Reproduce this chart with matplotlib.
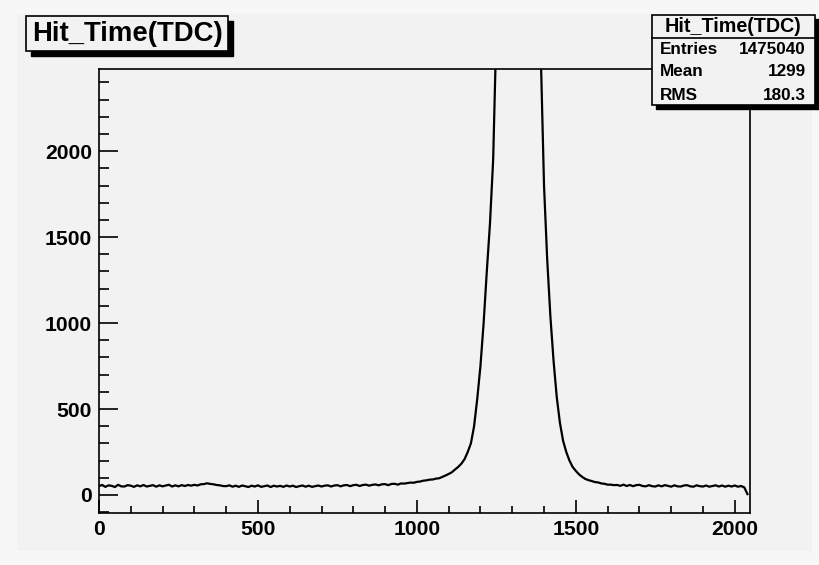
import numpy as np
import matplotlib
matplotlib.use("Agg")
import matplotlib.pyplot as plt
from matplotlib.patches import Rectangle
from matplotlib.ticker import MultipleLocator

# ---------------- data ----------------
bin_step = 10
counts_0_290 = [52, 58, 47, 56, 53, 46, 59, 50, 49, 57, 54, 47, 56, 50, 58, 49, 53, 57, 48, 56,
                50, 55, 59, 49, 56, 50, 57, 52, 58, 54]
counts_300_390 = [59, 55, 62, 63, 68, 64, 62, 58, 56, 52]
counts_400_690 = [51, 56, 48, 54, 47, 55, 51, 46, 54, 49, 56, 47, 51, 55, 46, 54, 49, 53, 47, 55,
                  49, 54, 46, 51, 55, 48, 54, 47, 51, 55]
counts_700_990 = [49, 54, 56, 49, 55, 57, 50, 56, 58, 51, 57, 59, 52, 58, 60, 54, 59, 61, 56, 62,
                  63, 57, 64, 65, 60, 67, 66, 69, 72, 71]
counts_1000_1250 = [76, 78, 83, 85, 89, 90, 95, 97, 105, 113, 122, 132, 148, 163, 182, 208, 250,
                    300, 400, 560, 750, 1000, 1300, 1580, 1950, 2700]
counts_1260_1380 = [4200, 6500, 9500, 13000, 16500, 19000, 20000, 19500, 17500, 14000, 10000,
                    6500, 3600]
counts_1390_1620 = [2550, 1800, 1370, 1040, 780, 570, 420, 315, 250, 200, 163, 140, 120, 105, 93,
                    86, 81, 75, 73, 67, 65, 60, 60, 57]
counts_1630_2040 = [58, 53, 60, 52, 58, 51, 57, 59, 52, 50, 57, 51, 49, 56, 50, 57, 53, 48, 56, 50,
                    49, 55, 57, 50, 48, 56, 51, 49, 55, 48, 52, 56, 49, 55, 48, 54, 49, 55, 48, 52,
                    44, 5]

counts = np.array(counts_0_290 + counts_300_390 + counts_400_690 + counts_700_990 +
                  counts_1000_1250 + counts_1260_1380 + counts_1390_1620 + counts_1630_2040,
                  dtype=float)
bin_x = np.arange(len(counts)) * bin_step

x_ticks = [0, 500, 1000, 1500, 2000]
y_ticks = [0, 500, 1000, 1500, 2000]
title_text = "Hit_Time(TDC)"
stats_labels = ["Entries", "Mean", "RMS"]
stats_values = ["1475040", "1299", "180.3"]

# ---------------- figure ----------------
W, H = 819, 565
fig = plt.figure(figsize=(W / 100, H / 100), dpi=100)
fig.patch.set_facecolor("#f7f7f7")

def fx(px):
    return px / W

def fy(py):
    return 1 - py / H

# inner pad background
fig.patches.append(Rectangle((fx(17), fy(551)), fx(812) - fx(17), fy(14) - fy(551),
                             transform=fig.transFigure, facecolor="#f2f2f2",
                             edgecolor="none", zorder=-10))

ax = fig.add_axes([fx(99), fy(513), fx(750) - fx(99), fy(69) - fy(513)])
ax.set_facecolor("#f2f2f2")
ax.plot(bin_x, counts, color="black", lw=1.6, solid_joinstyle="round")
ax.set_xlim(0, 2048)
ax.set_ylim(-105, 2478)

ax.xaxis.set_major_locator(MultipleLocator(500))
ax.xaxis.set_minor_locator(MultipleLocator(100))
ax.yaxis.set_major_locator(MultipleLocator(500))
ax.yaxis.set_minor_locator(MultipleLocator(100))
ax.set_xticks(x_ticks)
ax.set_yticks(y_ticks)

ax.tick_params(axis="x", which="major", direction="in", length=9.4, width=1.2, pad=5,
               top=False)
ax.tick_params(axis="x", which="minor", direction="in", length=4.7, width=1.2, top=False)
ax.tick_params(axis="y", which="major", direction="in", length=13.7, width=1.2, pad=5,
               right=False)
ax.tick_params(axis="y", which="minor", direction="in", length=7.2, width=1.2, right=False)

for lab in ax.get_xticklabels() + ax.get_yticklabels():
    lab.set_fontfamily("Liberation Sans")
    lab.set_fontweight("bold")
    lab.set_fontsize(15.2)

for sp in ax.spines.values():
    sp.set_linewidth(1.2)
    sp.set_color("black")

# ---------------- title box ----------------
def box(x0, y0, x1, y1, shadow=5, z=5):
    fig.patches.append(Rectangle((fx(x0 + shadow), fy(y1 + shadow)), fx(x1 - x0), fy(y0) - fy(y1),
                                 transform=fig.transFigure, facecolor="black",
                                 edgecolor="black", zorder=z))
    fig.patches.append(Rectangle((fx(x0), fy(y1)), fx(x1 - x0), fy(y0) - fy(y1),
                                 transform=fig.transFigure, facecolor="#f2f2f2",
                                 edgecolor="black", lw=1.2, zorder=z + 0.1))

box(26, 16, 228, 51, shadow=5)
fig.text(fx(127), fy(34), title_text, ha="center", va="center", fontsize=19.8,
         fontweight="bold", fontfamily="Liberation Sans", zorder=10)

# ---------------- stats box ----------------
box(652, 15, 815, 105, shadow=4, z=6)
fig.lines.append(plt.Line2D([fx(652), fx(815)], [fy(38), fy(38)], transform=fig.transFigure,
                            color="black", lw=1.2, zorder=7))
fig.text(fx(733), fy(26), title_text, ha="center", va="center", fontsize=14.2,
         fontweight="bold", fontfamily="Liberation Sans", zorder=10)
row_y = [50, 72, 95]
for lab, val, yy in zip(stats_labels, stats_values, row_y):
    fig.text(fx(660), fy(yy), lab, ha="left", va="center", fontsize=12.3,
             fontweight="bold", fontfamily="Liberation Sans", zorder=10)
    fig.text(fx(806), fy(yy), val, ha="right", va="center", fontsize=12.3,
             fontweight="bold", fontfamily="Liberation Sans", zorder=10)

fig.savefig("out.png", dpi=100, facecolor=fig.get_facecolor())
